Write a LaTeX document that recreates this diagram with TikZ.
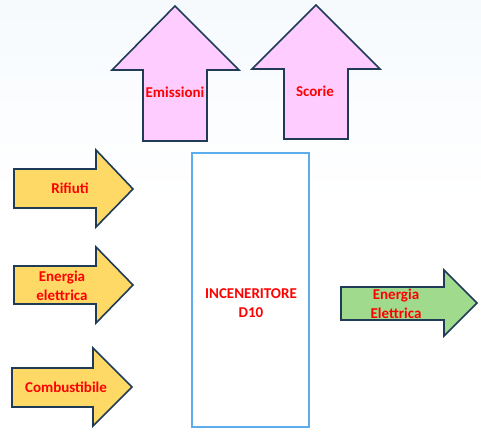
\documentclass[tikz,border=0pt]{standalone}
\usepackage{fontspec}
\setmainfont{Carlito}
\begin{document}
\begin{tikzpicture}[x=1pt,y=-1pt,
  arrowout/.style={draw=arrowline,line width=1.6pt,line join=miter},
  lbl/.style={font=\fontsize{15}{19}\selectfont\bfseries,text=red,align=center,inner sep=0pt},
]
\definecolor{arrowline}{HTML}{1F3B57}
\definecolor{pinkfill}{HTML}{FFCCFF}
\definecolor{yellowfill}{HTML}{FFD966}
\definecolor{greenfill}{HTML}{A0DA8C}
\definecolor{boxline}{HTML}{5DADEC}
\definecolor{bgtop}{HTML}{F6FAFD}
\useasboundingbox (0,0) rectangle (481,432);
\fill[top color=bgtop,bottom color=white] (0,0) rectangle (481,200);
\fill[white] (0,200) rectangle (481,432);
% up arrows
\path[arrowout,fill=pinkfill] (175,6) -- (239,70) -- (207,70) -- (207,141) -- (143,141) -- (143,70) -- (112,70) -- cycle;
\path[arrowout,fill=pinkfill] (316,5) -- (380,69) -- (348,69) -- (348,139) -- (284,139) -- (284,69) -- (252,69) -- cycle;
% input arrows
\path[arrowout,fill=yellowfill] (14,169) -- (96,169) -- (96,150) -- (133,189) -- (96,227) -- (96,208) -- (14,208) -- cycle;
\path[arrowout,fill=yellowfill] (14,266) -- (96,266) -- (96,247) -- (133,285) -- (96,323) -- (96,304) -- (14,304) -- cycle;
\path[arrowout,fill=yellowfill] (12,368) -- (93,368) -- (93,348) -- (132,387) -- (93,426) -- (93,407) -- (12,407) -- cycle;
% output arrow
\path[arrowout,fill=greenfill] (341,287) -- (444,287) -- (444,270) -- (477,303) -- (444,336) -- (444,320) -- (341,320) -- cycle;
% incinerator box
\node[draw=boxline,line width=1.5pt,fill=white,minimum width=117pt,minimum height=274pt,inner sep=0pt] (box) at (250.5,290) {};
% labels
\node[lbl] (emi) at (175,92) {Emissioni};
\node[lbl] (sco) at (315,91) {Scorie};
\node[lbl] (rif) at (70,188) {Rifiuti};
\node[lbl] (ene) at (62,286) {Energia\\elettrica};
\node[lbl] (com) at (66,387) {Combustibile};
\node[lbl] (inc) at (251,303) {INCENERITORE\\D10};
\node[lbl] (eel) at (396,303.5) {Energia\\Elettrica};
\end{tikzpicture}
\end{document}
